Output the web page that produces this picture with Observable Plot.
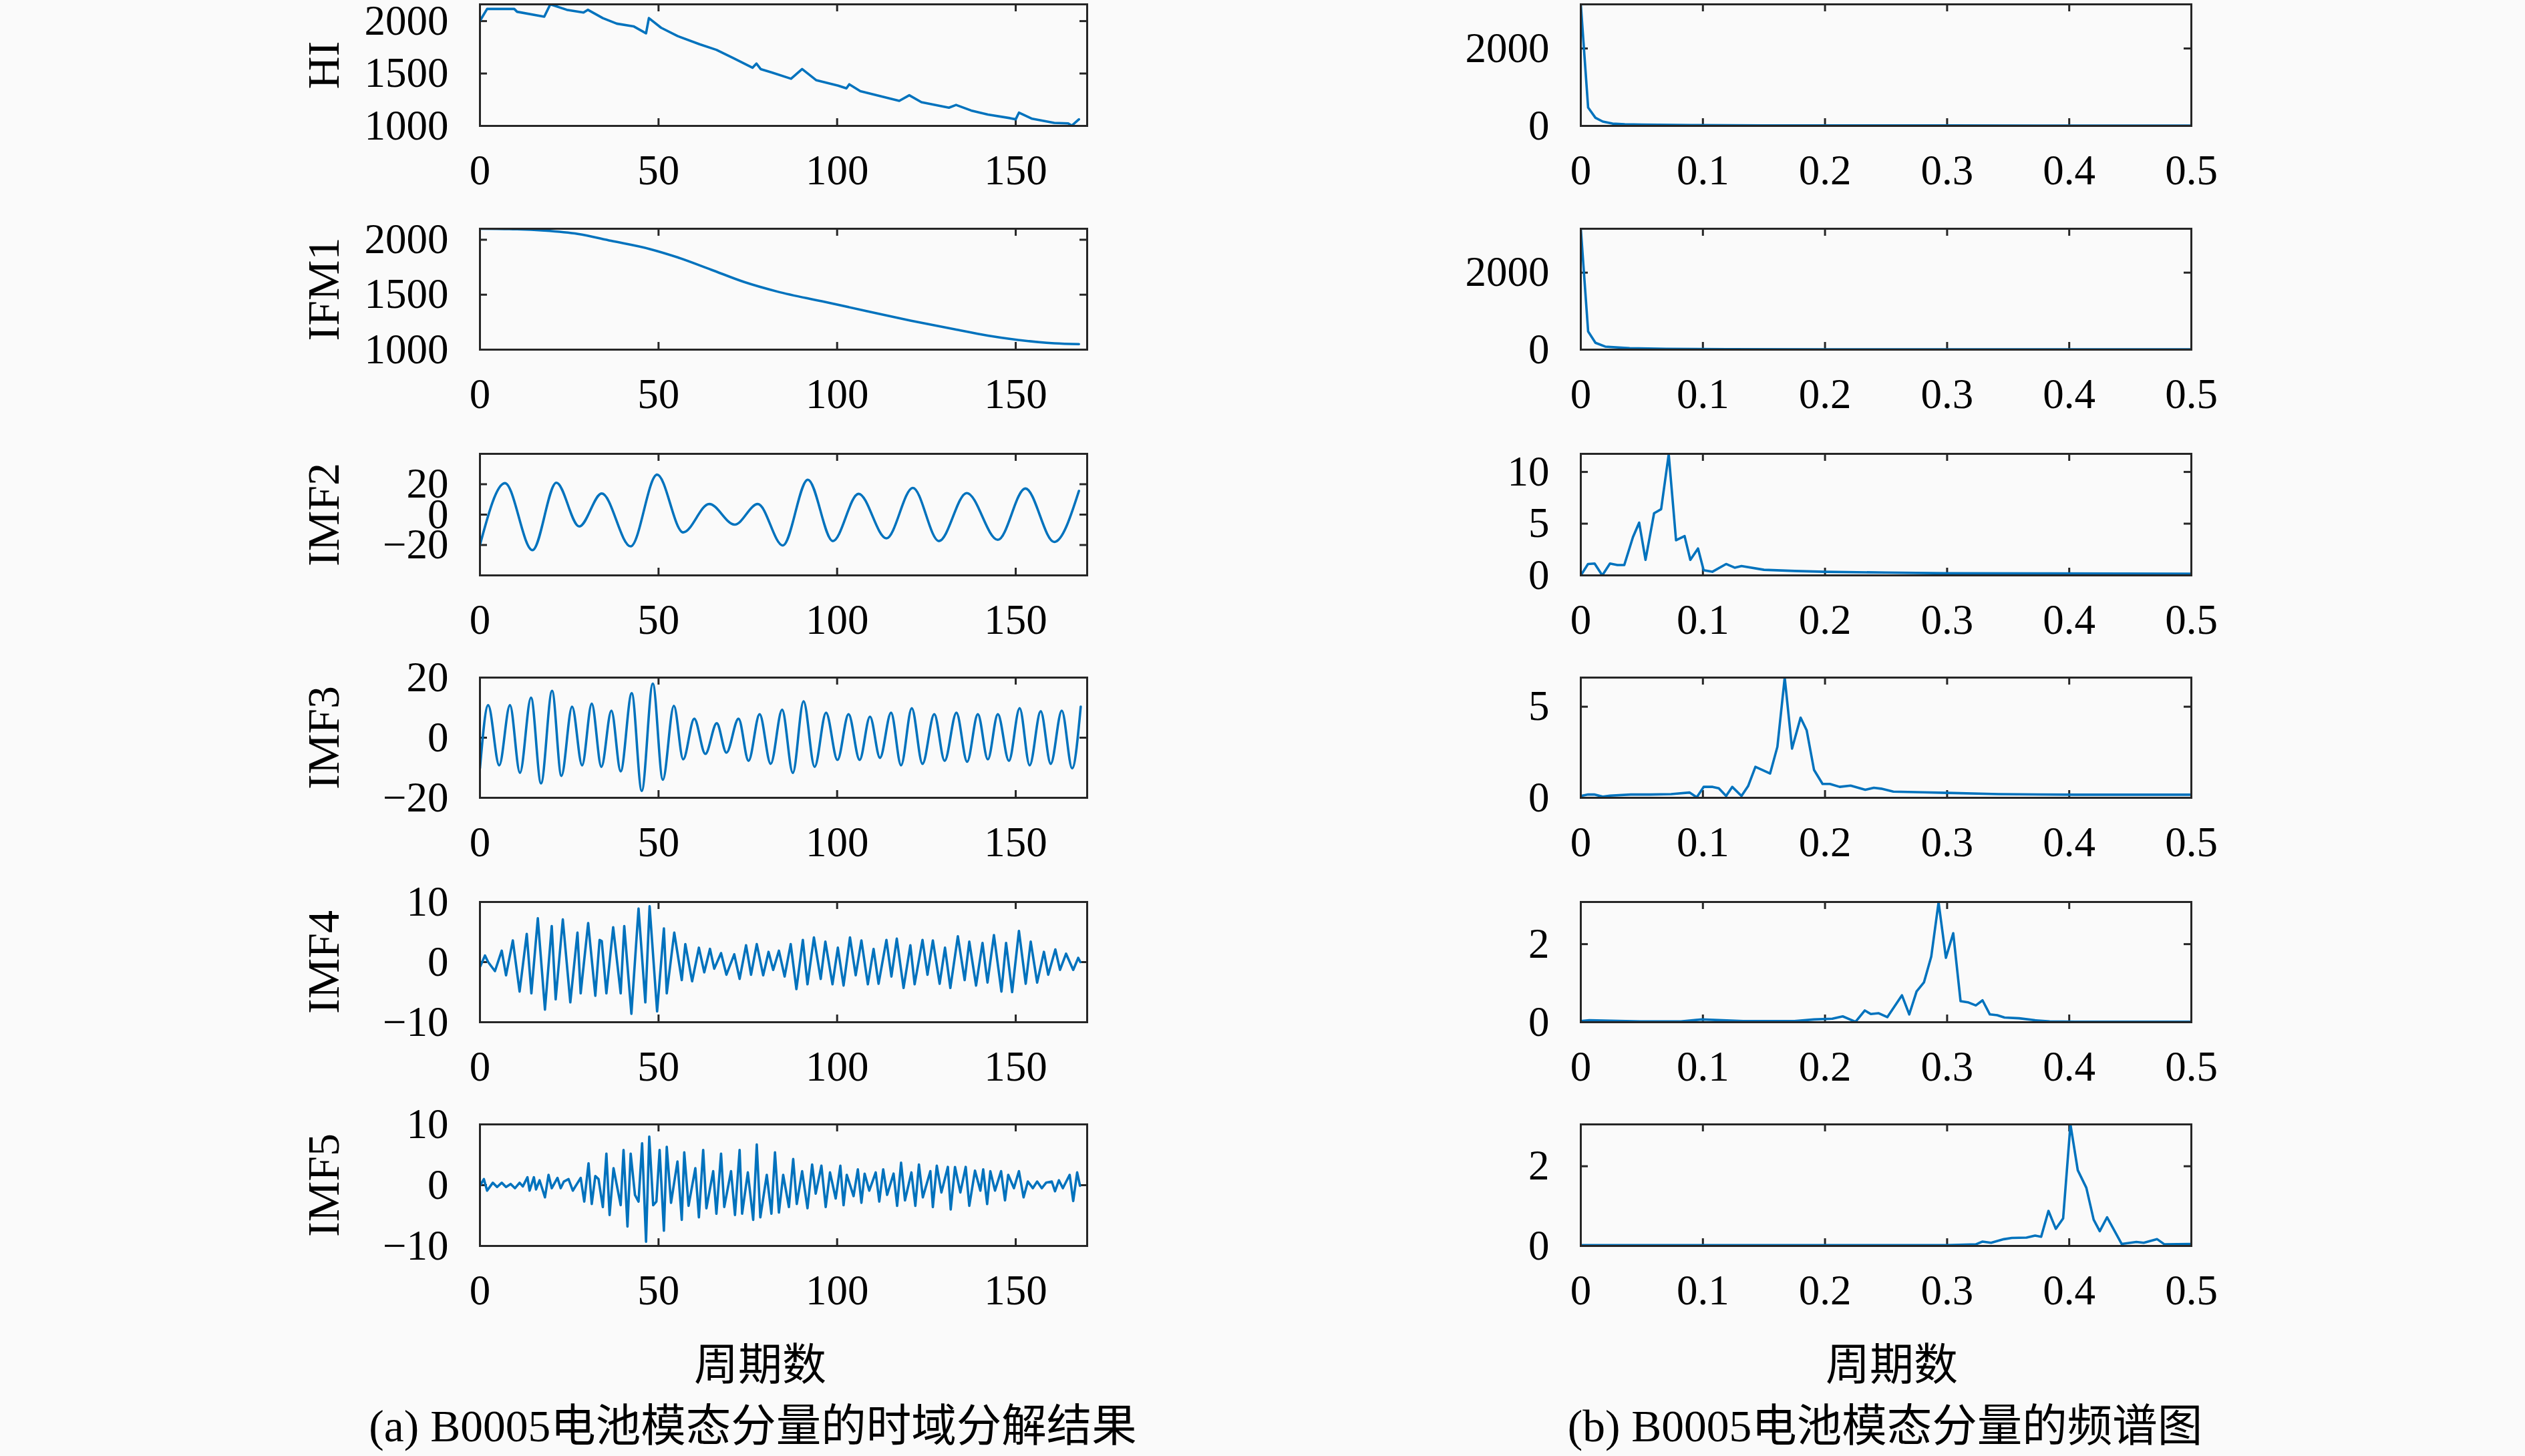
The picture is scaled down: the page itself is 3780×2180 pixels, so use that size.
<!DOCTYPE html>
<html><head><meta charset="utf-8">
<script src="https://cdn.jsdelivr.net/npm/d3@7"></script>
<script src="https://cdn.jsdelivr.net/npm/@observablehq/plot@0.6"></script>
<style>
html,body{margin:0;padding:0;background:#fafafa;overflow:hidden;}
#root{position:relative;width:3780px;height:2180px;background:#fafafa;overflow:hidden;}
.p{position:absolute;}
.t{position:absolute;font-family:"Liberation Serif","Noto Sans CJK SC",serif;color:#000;white-space:nowrap;transform:translate(-50%,-50%);line-height:1;}
</style></head><body><div id="root"></div>
<script>
// ---------- time-domain data (cycle number vs value) ----------
const hiX = [0, 2, 9.6, 10.4, 18, 19.7, 24.3, 29, 30.2, 34.4, 38.3, 43, 46.5, 47.3, 50.7, 55.3, 61.5, 66.2, 70.9, 76.3, 77.4, 78.6, 81.7, 87.1, 90.2, 94.1, 100.3, 102.6, 103.4, 106.5, 111.2, 117.4, 120.2, 123.6, 131.3, 133.3, 137.5, 142.2, 148.4, 150, 150.9, 154.6, 160.8, 164.7, 165.7, 167.7];
const hiY = [2002, 2116, 2116, 2089, 2042, 2160, 2108, 2082, 2108, 2029, 1976, 1950, 1884, 2029, 1937, 1858, 1779, 1726, 1647, 1555, 1595, 1542, 1510, 1450, 1542, 1437, 1384, 1358, 1397, 1332, 1292, 1239, 1292, 1226, 1174, 1200, 1147, 1108, 1074, 1063, 1126, 1068, 1029, 1024, 1003, 1063];

const ifm1X = [0, 10.4, 18, 27.4, 36.7, 47.6, 55.3, 64.7, 74, 83.3, 95.7, 108, 120.5, 132.9, 142.2, 151.5, 160.8, 167.7];
const ifm1Y = [2100, 2095, 2083, 2053, 1990, 1915, 1840, 1728, 1615, 1528, 1440, 1353, 1265, 1185, 1128, 1085, 1058, 1050];

const imf2X = [0, 7, 14.7, 21.4, 27.8, 34.1, 42.2, 49.6, 56.9, 64.2, 71.3, 77.8, 84.8, 91.8, 98.8, 106, 113.8, 121.2, 128.5, 136.3, 145, 152.7, 160.8, 167.7];
const imf2Y = [-20, 20.7, -23.4, 21, -7.8, 13.9, -20.9, 26.3, -11.7, 7, -6.6, 7, -20.3, 23, -17.4, 13.7, -15.6, 17.6, -17.4, 14.2, -16.6, 17.2, -18, 15.6];

const imf3X = [0, 2.3, 5.4, 8.4, 11.2, 14.3, 17.1, 20.2, 22.8, 25.8, 28.6, 31.3, 34.0, 36.8, 39.4, 42.5, 45.3, 48.4, 51.2, 54.3, 56.9, 60.0, 63.1, 66.3, 69.0, 72.4, 75.2, 78.3, 81.4, 84.6, 87.6, 90.6, 93.7, 96.9, 100.1, 103.2, 106.3, 109.2, 112.0, 115.1, 117.9, 120.9, 123.9, 127.2, 130.1, 133.4, 136.4, 139.4, 142.2, 145.0, 148.1, 151.1, 153.9, 157.0, 159.8, 162.9, 165.8, 168.2];
const imf3Y = [-10.2, 10.8, -9.2, 10.8, -11.7, 13.3, -15.2, 15.6, -12.7, 10.3, -9.2, 11.3, -9.7, 9, -11.2, 14.8, -17.7, 18, -14, 10.6, -7.2, 6.3, -5.4, 4.8, -5, 6.3, -7.7, 7.8, -8.7, 9.3, -11.7, 12.1, -9.7, 8.3, -7.4, 7.8, -7.4, 7, -6.7, 8.3, -9.2, 9.8, -8.7, 7.8, -7.7, 8.3, -8, 7.8, -7.2, 7.8, -7.7, 9.8, -9.2, 8.8, -8.7, 9, -10.2, 10.3];

const imf4X = [0.1, 1.4, 2.3, 4.2, 6.1, 7.3, 9.2, 11.1, 13.1, 14.4, 16.2, 18.2, 20.1, 21.2, 23.2, 25.3, 27.3, 28.2, 30.3, 32.3, 33.5, 34.1, 35.4, 37.3, 39.4, 40.4, 42.4, 44.4, 46.3, 47.5, 49.6, 51.5, 52.3, 54.4, 56.5, 57.5, 59.4, 61.3, 62.8, 64.4, 65.6, 67.5, 69.0, 71.2, 72.7, 74.5, 75.9, 77.5, 79.3, 80.8, 82.1, 83.7, 85.3, 87.0, 88.6, 90.4, 91.7, 93.5, 95.4, 96.7, 98.7, 100.2, 101.8, 103.6, 105.2, 106.8, 108.6, 110.2, 111.6, 113.8, 115.2, 116.7, 118.6, 120.5, 121.7, 123.9, 125.3, 126.8, 128.7, 130.2, 131.7, 133.8, 135.7, 137.0, 138.9, 140.7, 142.1, 143.9, 146.0, 147.3, 149.0, 150.9, 152.8, 154.2, 156.0, 157.9, 159.1, 161.1, 162.4, 164.1, 166.1, 167.5, 168.1];
const imf4Y = [-0.7, 1.1, 0, -1.5, 1.9, -2.2, 3.6, -4.9, 4.7, -5.2, 7.3, -7.9, 6, -6.2, 7.1, -6.7, 4.9, -5.2, 6.5, -5.6, 3.7, 3.5, -5.2, 5.8, -5.2, 6, -8.6, 8.9, -6.7, 9.3, -8.2, 5.6, -5.2, 4.9, -3, 3, -3.2, 2.4, -1.7, 2.2, -1.1, 1.5, -2.1, 1.3, -2.8, 2.8, -2.1, 3, -2.2, 1.7, -1.3, 1.9, -2.4, 3, -4.5, 3.7, -3.7, 4.1, -2.8, 3.4, -3.7, 2.4, -3.9, 4.1, -2.2, 3.6, -3.7, 2.2, -3.6, 3.7, -2.4, 3.9, -4.3, 2.8, -3.7, 3.7, -2.1, 3.6, -3.6, 2.4, -4.3, 4.3, -3, 3.4, -3.9, 3.2, -3.4, 4.5, -4.9, 3.2, -5, 5.2, -3.6, 3.4, -3.4, 1.7, -2.1, 2.1, -1.3, 1.4, -1.3, 0.7, 0];

const imf5X = [0.1, 1.1, 2.0, 3.6, 4.8, 6.1, 7.3, 8.6, 9.8, 11.1, 12.0, 13.3, 13.9, 15.1, 15.7, 16.7, 18.2, 19.2, 20.1, 21.7, 22.6, 23.5, 24.8, 26.0, 28.2, 29.2, 30.4, 31.3, 32.3, 33.2, 34.4, 35.4, 36.3, 37.4, 39.4, 40.2, 41.3, 42.2, 43.4, 44.4, 45.4, 46.5, 47.4, 48.5, 49.4, 50.3, 51.5, 52.3, 53.5, 55.3, 56.5, 57.2, 58.4, 60.3, 61.3, 62.5, 63.4, 65.3, 66.2, 67.5, 68.4, 70.3, 71.4, 72.7, 73.4, 75.0, 76.5, 77.5, 78.5, 80.3, 81.6, 82.6, 83.7, 84.9, 86.5, 87.7, 88.7, 90.2, 91.7, 93.0, 94.0, 95.6, 96.8, 98.0, 99.6, 100.9, 101.8, 102.7, 104.6, 105.8, 106.8, 107.7, 109.0, 110.8, 111.8, 112.9, 114.0, 115.8, 116.8, 117.9, 119.0, 120.8, 121.9, 122.9, 124.0, 126.1, 126.8, 127.9, 129.2, 131.0, 131.8, 133.0, 134.5, 136.0, 137.0, 138.6, 140.1, 140.9, 142.0, 142.9, 144.2, 145.9, 147.0, 147.9, 149.5, 150.9, 152.2, 153.4, 154.8, 156.0, 157.3, 158.5, 160.1, 161.0, 162.1, 163.2, 165.1, 166.1, 167.2, 168.0];
const imf5Y = [0, 1, -0.9, 0.4, -0.3, 0.4, -0.3, 0.2, -0.5, 0.4, -0.2, 1.3, -0.9, 1.3, -0.7, 0.8, -2, 1.7, -0.5, 1.2, -0.5, 0.6, 1, -0.9, 1.2, -2.7, 3.6, -3.1, 1.5, 1, -3.6, 5.2, -4.9, 2.8, -3.3, 5.8, -6.8, 5.2, -1.6, -2.7, 6.9, -9.3, 8, -3.3, -2.7, 5.8, -7.5, 6.3, -2.9, 3.9, -5.7, 5.4, -3.4, 2.8, -5.3, 5.8, -3.8, 2.3, -4.7, 5.2, -3.6, 2.3, -4.9, 5.8, -4.7, 2.1, -5.7, 6.7, -5.3, 1.7, -4.7, 5.4, -4.5, 1.7, -3.6, 4.3, -3.1, 2.3, -3.8, 3.4, -1.4, 3.2, -3.6, 2.1, -2.2, 3.2, -3.3, 1.7, -1.8, 2.6, -2.9, 1.9, -0.9, 2.1, -2.7, 2.6, -1.6, 1.9, -3.4, 3.7, -2.5, 2.1, -3.4, 3.4, -2, 2.3, -3.6, 3.2, -1.2, 3, -4, 3, -1.2, 3, -3.4, 2.4, -0.9, 2.6, -3.1, 2.3, -0.9, 2.3, -2.5, 1.7, -0.5, 2.3, -2, 0.6, -0.5, 0.6, -0.5, 0.4, 0.6, -1, 0.8, -0.5, 1.7, -2.6, 2.1, -0.1];

// ---------- frequency-domain data (frequency vs amplitude) ----------
const specHiF = [0, 0.006, 0.012, 0.018, 0.026, 0.036, 0.05, 0.09, 0.15, 0.3, 0.5];
const specHiA = [3140, 474, 210, 112, 59, 42, 33, 20, 14, 10, 8];

const specIfm1F = [0, 0.006, 0.012, 0.02, 0.04, 0.07, 0.12, 0.2, 0.35, 0.5];
const specIfm1A = [3140, 474, 178, 79, 40, 20, 12, 9, 7, 6];

const specImf2F = [0, 0.0059, 0.0113, 0.0176, 0.0239, 0.030, 0.0356, 0.0427, 0.0478, 0.053, 0.060, 0.0658, 0.072, 0.078, 0.085, 0.0897, 0.096, 0.1006, 0.1077, 0.119, 0.126, 0.1316, 0.15, 0.175, 0.2, 0.25, 0.3, 0.384, 0.5];
const specImf2A = [0, 1.1, 1.15, 0, 1.15, 1.0, 1.0, 3.7, 5.1, 1.5, 6.0, 6.4, 11.7, 3.4, 3.8, 1.5, 2.6, 0.5, 0.35, 1.1, 0.75, 0.9, 0.54, 0.43, 0.35, 0.27, 0.2, 0.19, 0.16];

const specImf3F = [0, 0.006, 0.011, 0.018, 0.024, 0.041, 0.057, 0.074, 0.089, 0.095, 0.1006, 0.108, 0.113, 0.119, 0.124, 0.1316, 0.137, 0.143, 0.155, 0.161, 0.167, 0.173, 0.180, 0.185, 0.191, 0.198, 0.204, 0.212, 0.221, 0.233, 0.24, 0.246, 0.256, 0.28, 0.30, 0.342, 0.405, 0.5];
const specImf3A = [0.1, 0.18, 0.18, 0.06, 0.12, 0.18, 0.18, 0.2, 0.29, 0.03, 0.6, 0.6, 0.52, 0.1, 0.6, 0.1, 0.64, 1.7, 1.33, 2.8, 6.6, 2.7, 4.4, 3.7, 1.53, 0.76, 0.76, 0.6, 0.67, 0.44, 0.55, 0.5, 0.34, 0.3, 0.27, 0.2, 0.17, 0.17];

const specImf4F = [0, 0.007, 0.049, 0.082, 0.099, 0.133, 0.175, 0.191, 0.206, 0.2145, 0.225, 0.2326, 0.2375, 0.244, 0.251, 0.263, 0.269, 0.275, 0.281, 0.287, 0.293, 0.299, 0.305, 0.311, 0.317, 0.3235, 0.329, 0.335, 0.341, 0.347, 0.359, 0.372, 0.384, 0.405, 0.5];
const specImf4A = [0.03, 0.05, 0.02, 0.02, 0.07, 0.03, 0.03, 0.07, 0.09, 0.15, 0.01, 0.3, 0.21, 0.23, 0.13, 0.69, 0.2, 0.79, 1.02, 1.68, 3.07, 1.65, 2.28, 0.54, 0.51, 0.43, 0.56, 0.2, 0.18, 0.12, 0.1, 0.05, 0.02, 0.01, 0.01];

const specImf5F = [0, 0.1, 0.2, 0.3, 0.3235, 0.329, 0.336, 0.3465, 0.353, 0.365, 0.372, 0.377, 0.383, 0.389, 0.395, 0.401, 0.407, 0.414, 0.42, 0.425, 0.431, 0.443, 0.455, 0.461, 0.472, 0.478, 0.5];
const specImf5A = [0.02, 0.02, 0.02, 0.02, 0.04, 0.11, 0.08, 0.17, 0.2, 0.21, 0.26, 0.23, 0.88, 0.43, 0.69, 3.05, 1.9, 1.46, 0.66, 0.37, 0.72, 0.05, 0.1, 0.08, 0.17, 0.04, 0.05];

// ---------- labels & ticks ----------
const rowLabels = ["HI", "IFM1", "IMF2", "IMF3", "IMF4", "IMF5"];
const cycleTicks = [0, 50, 100, 150];
const freqTicks = [0, 0.1, 0.2, 0.3, 0.4, 0.5];
const timeYTicks = [[1000, 1500, 2000], [1000, 1500, 2000], [-20, 0, 20], [-20, 0, 20], [-10, 0, 10], [-10, 0, 10]];
const freqYTicks = [[0, 2000], [0, 2000], [0, 5, 10], [0, 5], [0, 2], [0, 2]];
const timeYDomains = [[1000, 2160], [1000, 2100], [-40, 40], [-20, 20], [-10, 10], [-10, 10]];
const freqYDomains = [[0, 3140], [0, 3140], [0, 11.75], [0, 6.6], [0, 3.08], [0, 3.05]];
const xLabelText = "周期数";
const captionA = "(a) B0005电池模态分量的时域分解结果";
const captionB = "(b) B0005电池模态分量的频谱图";

const timeSeries = [[hiX, hiY], [ifm1X, ifm1Y], [imf2X, imf2Y], [imf3X, imf3Y], [imf4X, imf4Y], [imf5X, imf5Y]];
const timeCurves = ["linear", "monotone-x", "monotone-x", "monotone-x", "linear", "linear"];
const freqSeries = [[specHiF, specHiA], [specIfm1F, specIfm1A], [specImf2F, specImf2A], [specImf3F, specImf3A], [specImf4F, specImf4A], [specImf5F, specImf5A]];

// ---------- layout ----------
const FONT = '"Liberation Serif", "DejaVu Serif", serif';
const INK = "#262626";
const BLUE = "#0072BD";
const rowTop = [6, 342, 679, 1014, 1350, 1683];
const rowH = [182, 181, 182, 180, 180, 182];
const fmt = d => (d < 0 ? "\u2212" + Math.abs(d) : String(d));
const root = document.getElementById("root");

function panel(xs, ys, xDomain, yDomain, xTicks, yTicks, curve, label, svgLeft, plotLeft, plotW, top, ph) {
  const mT = 40, mB = 120, mR = 110;
  const data = xs.map((d, i) => ({x: d, y: ys[i]}));
  const tk = 11;
  const marks = [
    Plot.ruleX(xTicks, {x: d => d, insetTop: ph - tk, stroke: INK, strokeWidth: 3}),
    Plot.ruleX(xTicks, {x: d => d, insetBottom: ph - tk, stroke: INK, strokeWidth: 3}),
    Plot.ruleY(yTicks, {y: d => d, insetRight: plotW - tk, stroke: INK, strokeWidth: 3}),
    Plot.ruleY(yTicks, {y: d => d, insetLeft: plotW - tk, stroke: INK, strokeWidth: 3}),
    Plot.line(data, {x: "x", y: "y", stroke: BLUE, strokeWidth: 3.6, curve, clip: true}),
    Plot.frame({stroke: INK, strokeWidth: 3}),
    Plot.axisX({ticks: xTicks, tickSize: 0, tickPadding: 43, tickFormat: fmt, fontSize: 63, fontFamily: FONT, fill: "#000", label: null}),
    Plot.axisY({ticks: yTicks, tickSize: 0, tickPadding: 47, tickFormat: fmt, fontSize: 63, fontFamily: FONT, fill: "#000", label: null})
  ];
  if (label) marks.push(Plot.text([label], {text: d => d, frameAnchor: "left", textAnchor: "middle", lineAnchor: "middle", dx: -233, rotate: -90, fontSize: 68, fontFamily: FONT, fill: "#000"}));
  const chart = Plot.plot({
    width: plotLeft + plotW + mR,
    height: mT + ph + mB,
    marginLeft: plotLeft, marginRight: mR, marginTop: mT, marginBottom: mB,
    x: {domain: xDomain},
    y: {domain: yDomain},
    style: {background: "transparent", fontFamily: FONT, fontSize: "63px", color: "#000", maxWidth: "none", overflow: "visible"},
    marks
  });
  const div = document.createElement("div");
  div.className = "p";
  div.style.left = svgLeft + "px";
  div.style.top = (top - mT) + "px";
  div.appendChild(chart);
  root.appendChild(div);
}

for (let r = 0; r < 6; r++) {
  const [tx, ty] = timeSeries[r];
  panel(tx, ty, [0, 170], timeYDomains[r], cycleTicks, timeYTicks[r], timeCurves[r], rowLabels[r], 400, 318, 909, rowTop[r], rowH[r]);
  const [fx, fy] = freqSeries[r];
  panel(fx, fy, [0, 0.5], freqYDomains[r], freqTicks, freqYTicks[r], "linear", null, 2150, 216, 914, rowTop[r], rowH[r]);
}

function addText(txt, cx, cy, size) {
  const el = document.createElement("div");
  el.className = "t";
  el.style.left = cx + "px";
  el.style.top = cy + "px";
  el.style.fontSize = size + "px";
  el.textContent = txt;
  root.appendChild(el);
}
addText(xLabelText, 1138, 2044, 66);
addText(xLabelText, 2832, 2044, 66);
addText(captionA, 1127, 2136, 67.5);
addText(captionB, 2822, 2136, 67.5);
</script>
</body></html>
